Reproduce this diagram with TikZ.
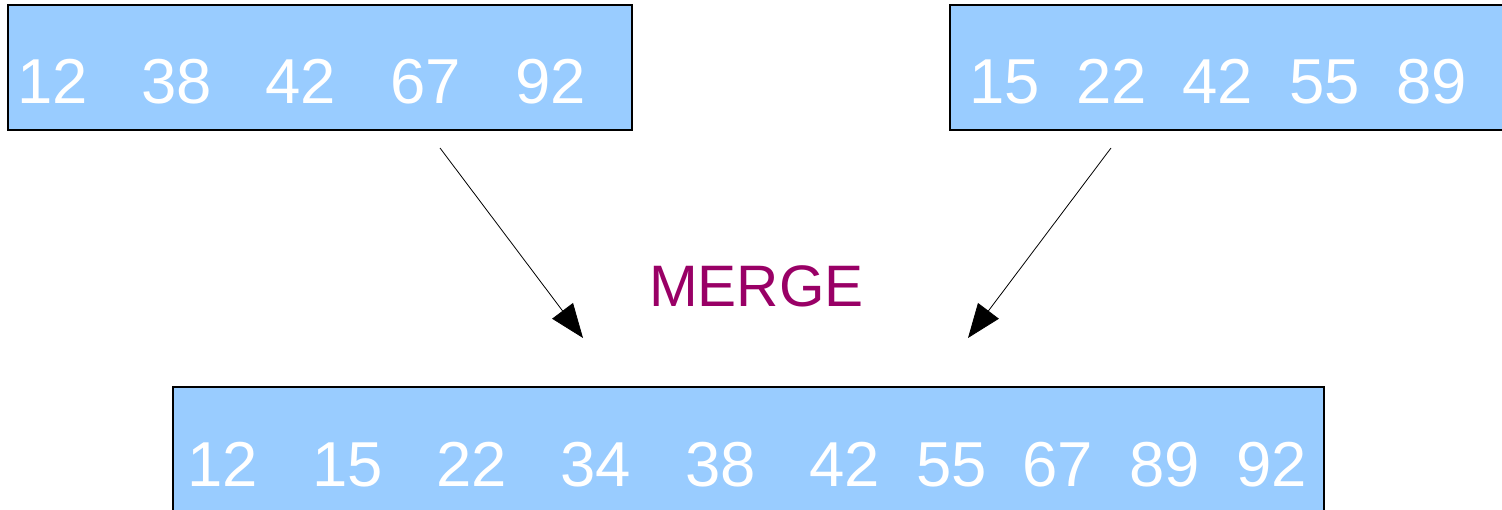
\documentclass[tikz,border=0pt]{standalone}
\usepackage{fontspec}
\setmainfont{Liberation Sans}
\usetikzlibrary{arrows.meta}
\definecolor{cellblue}{HTML}{99CCFF}
\definecolor{mergepurple}{HTML}{990066}
\tikzset{
  listbox/.style={draw=black, line width=1.6pt, fill=cellblue, rectangle,
    inner sep=0pt, outer sep=0pt, anchor=north west},
  num/.style={text=white, font=\fontsize{63.5}{63.5}\selectfont,
    anchor=base west, inner sep=0pt},
  flow/.style={line width=0.8pt, -{Triangle[length=34pt,width=26pt]}},
}
\begin{document}
\begin{tikzpicture}[x=1pt,y=1pt]
\useasboundingbox (0,0) rectangle (1502,-510);
\clip (0,0) rectangle (1502,-510);

% the two sorted input lists and the merged output list
\node[listbox, minimum width=624pt, minimum height=125pt] (left) at (8,-5) {};
\node[listbox, minimum width=580pt, minimum height=125pt] (right) at (950,-5) {};
\node[listbox, minimum width=1151pt, minimum height=140pt] (out) at (173,-387) {};

% left list values
\foreach \x/\v [count=\i] in {17/12, 141/38, 265/42, 390/67, 515/92}
  \node[num] (l\i) at (\x,-104) {\v};

% right list values
\foreach \x/\v [count=\i] in {969/15, 1076/22, 1182/42, 1289/55, 1396/89}
  \node[num] (r\i) at (\x,-104) {\v};

% merged list values
\foreach \x/\v [count=\i] in {187/12, 312/15, 436/22, 560/34, 685/38,
                              809/42, 916/55, 1022/67, 1129/89, 1236/92}
  \node[num] (o\i) at (\x,-486) {\v};

% label between the arrows
\node[text=mergepurple, font=\fontsize{58.5}{58.5}\selectfont, anchor=base west,
  inner sep=0pt] (merge) at (649,-307) {MERGE};

% arrows feeding the output list
\coordinate (lstart) at (440,-148);
\coordinate (lend) at (583,-338);
\coordinate (rstart) at (1111,-148);
\coordinate (rend) at (968,-338);
\draw[flow] (lstart) -- (lend);
\draw[flow] (rstart) -- (rend);
\end{tikzpicture}
\end{document}
